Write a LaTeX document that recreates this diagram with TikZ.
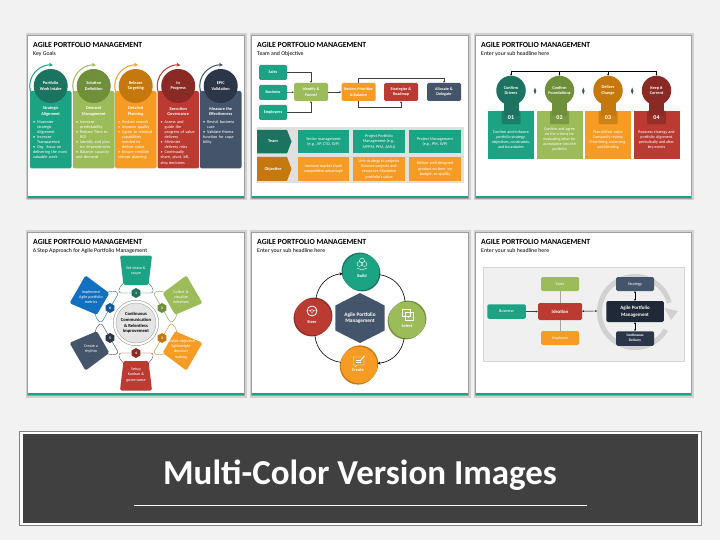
\documentclass[tikz,border=0pt]{standalone}
\usepackage{fontspec}
\setmainfont{Carlito}
\usepackage{tikz, xcolor}
\usetikzlibrary{arrows.meta,shapes.geometric}

\definecolor{pagegrey}{HTML}{F2F2F2}
\definecolor{tealc}{HTML}{1CA384}
\definecolor{tealk}{HTML}{1A7460}
\definecolor{greenc}{HTML}{9CBB59}
\definecolor{greenk}{HTML}{6F8F3B}
\definecolor{orangec}{HTML}{F69C25}
\definecolor{orangek}{HTML}{C4780D}
\definecolor{redc}{HTML}{BB3A32}
\definecolor{redk}{HTML}{8A2A24}
\definecolor{slatec}{HTML}{44546A}
\definecolor{slatek}{HTML}{2B3748}
\definecolor{bluec}{HTML}{1170BF}
\definecolor{bluek}{HTML}{0E5A9A}
\definecolor{inkc}{HTML}{1F2937}

\newcommand{\fsz}[2]{\fontsize{#1}{#2}\selectfont}
\newcommand{\itm}[1]{\par\hyphenpenalty=10000\relax\hangindent=4pt\hangafter=1\noindent\makebox[4pt][l]{\textbullet}#1}

\begin{document}
\begin{tikzpicture}[x=1pt,y=-1pt]
%Formats the slides
\tikzstyle{slidetitle}=[anchor=west,inner sep=0,font=\fsz{7.8}{9}\bfseries,text=black]
\tikzstyle{slidesub}=[anchor=west,inner sep=0,font=\fsz{5.8}{7},text=black]
%Formats text inside shapes
\tikzstyle{wtext}=[inner sep=0,align=center,text=white,font=\fsz{4.2}{5.1}]
\tikzstyle{wbold}=[wtext,font=\fsz{4.3}{5.5}\bfseries]
\tikzstyle{bullets}=[anchor=north west,inner sep=0,text=white,text width=34.5pt,font=\fsz{4.2}{5.1}]
%Formats boxes and connectors
\tikzstyle{flowbox}=[rounded corners=1.5pt,inner sep=0,align=center,text=white,font=\fsz{4.1}{5.3}\bfseries,minimum height=15pt,minimum width=34pt]
\tikzstyle{cellbox}=[inner sep=1pt,align=center,text=white,font=\fsz{4.2}{5.3},minimum width=51.5pt,minimum height=23.5pt]
\tikzstyle{flow}=[draw=black!75,line width=.5pt,-{Stealth[length=2pt,width=2pt]}]
\tikzstyle{twoway}=[draw=black,line width=.4pt,{Stealth[length=1.8pt,width=1.8pt]}-{Stealth[length=1.8pt,width=1.8pt]}]
\tikzstyle{ringline}=[draw=black,line width=.6pt]
\tikzstyle{stepdisc}=[circle,minimum size=36.6pt,inner sep=0]
\tikzstyle{iconline}=[draw=white,line width=.4pt]

\useasboundingbox (0,0) rectangle (720,540);
\fill[pagegrey] (0,0) rectangle (720,540);

%Slide frames
\foreach \sid/\x/\y/\w/\tx/\sub in {
  sa/28/36/216/33/Key Goals,
  sb/252/36/216/257/Team and Objective,
  sc/476/36/215/481/Enter your sub headline here,
  sd/28/233/216/33/6 Step Approach for Agile Portfolio Management,
  se/252/233/216/257/Enter your sub headline here,
  sf/476/233/215/481/Enter your sub headline here}
{
  \fill[black!18] (\x-2.5,\y-2.5) rectangle (\x+\w+2.5,\y+164.5);
  \fill[black!38] (\x-1.2,\y-1.2) rectangle (\x+\w+1.2,\y+163.2);
  \fill[white] (\x,\y) rectangle (\x+\w,\y+162);
  \fill[tealc] (\x,\y+160.4) rectangle (\x+\w,\y+162);
  \node[slidetitle] (\sid title) at (\tx,\y+8.5) {AGILE PORTFOLIO MANAGEMENT};
  \node[slidesub] (\sid sub) at (\tx,\y+18) {\sub};
}

%Slide one, key goals
\foreach \gid/\x/\col/\dark/\disc/\head/\body in {
  ga/30/tealc/tealk/{Portfolio\\Work Intake}/{Strategic\\Alignment}/{\itm{Maximize strategic Alignment}\itm{Increase Transparence}\itm{Org. focus on delivering the most valuable work}},
  gb/73/greenc/greenk/{Solution\\Definition}/{Demand\\Management}/{\itm{Increase predictability}\itm{Reduce Time to ROI}\itm{Identify and plan for dependencies}\itm{Balance capacity and demand}},
  gc/115/orangec/orangek/{Release\\Targeting}/{Detailed\\Planning}/{\itm{Reduce rework}\itm{Improve quality}\itm{Agree to minimal capabilities needed to deliver value}\itm{Ensure credible release planning}},
  gd/157.5/redc/redk/{In\\Progress}/{Execution\\Governance}/{\itm{Assess and\newline guide the progress of value delivery}\itm{Minimize delivery risks}\itm{Continually share, pivot, kill, ship decisions}},
  ge/200/slatec/slatek/{EPIC\\Validation}/{Measure the\\Effectiveness}/{\itm{Revisit business case}\itm{Validate fitness function for capability}}}
{
  \fill[\col,rounded corners=2pt] (\x,91) rectangle (\x+41.5,168.5);
  \draw[\col,line width=1pt,-{Stealth[length=4pt,width=4pt]}] (\x+20.7,86) ++(196:21pt) arc[start angle=196,end angle=84,radius=21pt];
  \node[circle,fill=\dark,minimum size=34pt,inner sep=0] (\gid disc) at (\x+20.7,86) {};
  \node[wbold] (\gid label) at (\gid disc) {\disc};
  \node[wbold] (\gid head) at (\x+20.7,111.5) {\head};
  \node[bullets] (\gid body) at (\x+3,118) {\raggedright\body};
}

%Slide two, flow
\node[flowbox,fill=tealc,minimum width=28pt] (sales) at (273,72.5) {Sales};
\node[flowbox,fill=tealc,minimum width=28pt] (business) at (273,92.5) {Business};
\node[flowbox,fill=tealc,minimum width=28pt] (employees) at (273,112.5) {Employees};
\node[flowbox,fill=greenc,minimum height=18pt] (identify) at (311,92) {Identify \&\\Funnel};
\node[flowbox,fill=orangec,minimum height=18pt] (review) at (358.5,92) {Review Prioritize\\\& Balance};
\node[flowbox,fill=redc,minimum height=18pt] (strategize) at (401,92) {Strategize \&\\Roadmap};
\node[flowbox,fill=slatec,minimum height=18pt] (allocate) at (444,92) {Allocate \&\\Delegate};
\draw[flow] (sales.east) -| (identify.north);
\draw[flow] (business) -- (identify);
\draw[flow] (employees.east) -| (identify.south);
\draw[flow] (identify) -- (review);
\draw[flow] (review.north) -- ++(0,-5) -| (allocate.north);
\draw[flow] (review.south) -- ++(0,6) -| (strategize.south);

%Slide two, table
\fill[black!12] (256.5,127) rectangle (464,183.5);
\fill[tealk] (257,130) -- (287,130) -- (291.5,141.5) -- (287,153.5) -- (257,153.5) -- cycle;
\fill[orangek] (257,157) -- (287,157) -- (291.5,169) -- (287,181) -- (257,181) -- cycle;
\node[wbold] (team) at (273,141.5) {Team};
\node[wbold] (objective) at (273,169) {Objective};
\foreach \cid/\x/\y/\col/\txt in {
  ca/323.5/141.7/tealc/{Senior management\\(e.g., VP, CTO, SVP)},
  cb/379/141.7/tealc/{Project Portfolio\\Management (e.g.,\\MPPM, PfM, AMU)},
  cc/435/141.7/tealc/{Project Management\\(e.g., PM, SVP)},
  cd/323.5/169/orangec/{Increase market share\\competitive advantage},
  ce/379/169/orangec/{Link strategy to projects\\Balance projects and\\resources Maximize\\portfolio's value},
  cf/435/169/orangec/{Deliver well designed\\product on time, on\\budget, or quality}}
{
  \node[cellbox,fill=\col] (\cid) at (\x,\y) {\txt};
}

%Slide three, cards
\draw[line width=.6pt] (511,71) -- (657,71);
\foreach \kid/\x/\col/\dark/\disc/\num/\body in {
  ka/511/tealc/tealk/{Confirm\\Drivers}/01/{Confirm and enhance\\portfolio strategy,\\objectives, constraints,\\and boundaries},
  kb/559.5/greenc/greenk/{Confirm\\Foundations}/02/{Confirm and agree\\on the criteria for\\evaluating ideas for\\acceptance into the\\portfolio},
  kc/608/orangec/orangek/{Deliver\\Change}/03/{Plan deliver value\\Constantly review,\\Prioritizing, balancing,\\and blending},
  kd/656.5/redc/redk/{Keep it\\Current}/04/{Reassess strategy and\\portfolio alignment\\periodically and after\\key events}}
{
  \fill[\col] (\x-23,111) rectangle (\x+23,159);
  \fill[\dark] (\x-7.5,100) rectangle (\x+7.5,116);
  \node[circle,fill=\dark,minimum size=29.5pt,inner sep=0] (\kid disc) at (\x,90.5) {};
  \node[rounded corners=1pt,fill=\dark,fill opacity=.75,text opacity=1,minimum width=19pt,minimum height=13.5pt,inner sep=0,text=white,font=\fsz{6}{7}\bfseries] (\kid num) at (\x,117.5) {\num};
  \node[wbold] (\kid label) at (\kid disc) {\disc};
  \node[wtext,font=\fsz{4.1}{5}] (\kid body) at (\x,139.5) {\body};
  \draw[line width=.6pt,-{Stealth[length=1.5pt,width=1.5pt]}] (\x,71) -- (\kid disc.north);
}
\foreach \mid/\x in {ma/535,mb/583.3,mc/632.2}{
  \node[diamond,fill=slatec,minimum width=2.8pt,minimum height=7pt,inner sep=0,aspect=.4] (\mid) at (\x,91) {};
}

%Slide four, six steps
\node[circle,draw=black!45,line width=.4pt,minimum size=45.5pt,inner sep=0] (core) at (136,323) {};
\node[circle,draw=black!35,fill=black!10,line width=.4pt,minimum size=40pt,inner sep=0,align=center,font=\fsz{4.6}{5.7}\bfseries,text=black] (coretext) at (core) {Continuous\\Communication\\\& Relentless\\Improvement};
\foreach \pid/\ang/\col/\dark/\num/\txt in {
  pa/90/tealc/tealk/1/{Set vision \&\\scope},
  pb/30/greenc/greenk/2/{Collect \&\\visualize\\initiatives},
  pc/-30/orangec/orangek/3/{Realize objective\\lightweight\\decision\\making},
  pd/-90/redc/redk/4/{Setup\\Kanban \&\\governance},
  pe/-150/slatec/slatek/5/{Create a\\rhythm},
  pf/150/bluec/bluek/6/{Implement\\Agile portfolio\\metrics}}
{
  \begin{scope}[shift={(core)},rotate=\ang-90]
    \draw[\dark,line width=.35pt,rounded corners=2pt] (-3,-30) -- (-17,-30) -- (-17,-35) -- (-12.5,-40);
    \draw[\dark,line width=.35pt,rounded corners=2pt] (3,-30) -- (17,-30) -- (17,-35) -- (12.5,-40);
    \fill[\col,rounded corners=1.5pt] (-16,-67.5) -- (16,-67.5) -- (12.5,-38) -- (-12.5,-38) -- cycle;
  \end{scope}
  \node[regular polygon,regular polygon sides=6,shape border rotate=30,fill=\dark,minimum size=10pt,inner sep=0,text=white,font=\fsz{3.8}{4}\bfseries] (\pid num) at ([shift={(\ang:30pt)}]core) {\num};
  \node[wtext,font=\fsz{4.1}{5.3}] (\pid) at ([shift={(\ang:52pt)}]core) {\txt};
}

%Slide five, cycle
\node[regular polygon,regular polygon sides=6,shape border rotate=30,fill=slatec,minimum size=50pt,inner sep=0,xscale=1.14] (hub) at (360,318) {};
\node[wbold,font=\fsz{5.3}{6.6}\bfseries] (hubtext) at (hub) {Agile Portfolio\\Management};
\foreach \did/\x/\y/\dark/\ax/\ay in {
  build/361/272/tealk/1.1/1.1,
  select/407/320/greenk/1.1/-1.1,
  create/359/365/orangek/.9/-1.3,
  steer/313/317/redk/1.1/-1.1}
{
  \fill[\dark] (\x+\ax,\y+\ay) circle (18.3pt);
  \fill[\dark] (\x-\ax,\y-\ay) circle (18.3pt);
}
\node[stepdisc,fill=tealc] (buildnode) at (361,272) {};
\node[stepdisc,fill=greenc] (selectnode) at (407,320) {};
\node[stepdisc,fill=orangec] (createnode) at (359,365) {};
\node[stepdisc,fill=redc] (steernode) at (313,317) {};
\node[wbold] (buildlabel) at (362,276.5) {Build};
\node[wbold] (selectlabel) at (407,326) {Select};
\node[wbold] (createlabel) at (358,370.5) {Create};
\node[wbold] (steerlabel) at (312,322.5) {Steer};
\draw[ringline] (buildnode) to[bend left=38] (selectnode);
\draw[ringline,-{Stealth[length=3pt,width=3pt]}] (selectnode) to[bend left=38] (createnode);
\draw[ringline] (createnode) to[bend left=38] (steernode);
\draw[ringline,-{Stealth[length=3pt,width=3pt]}] (steernode) to[bend left=38] (buildnode);
%Icons
\draw[iconline] (359.5,264) circle (2.4pt) (364.5,264) circle (2.4pt) (362,260.5) circle (2.4pt) (357,268) -- (362,270) -- (367,268);
\draw[iconline] (402.5,309) rectangle (410,316.5) (405,312) rectangle (413,320);
\draw[iconline] (407,316) -- (408.5,317.5) -- (411,314.5);
\draw[iconline] (353.5,357) -- (364,357) -- (364,365) -- (357,365) -- (355,367) -- (355,365) -- (353.5,365) -- cycle;
\draw[iconline] (355.5,360) -- (361,360) (355.5,362.5) -- (361,362.5);
\draw[white,line width=.8pt] (360,361) -- (364.5,356);
\draw[iconline,line width=.8pt] (312,311) circle (5pt);
\draw[iconline] (312,311) circle (1.6pt) (307,310) -- (310.5,310.5) (317,310) -- (313.5,310.5) (312,312.6) -- (312,316);

%Slide six, ideation
\fill[black!6] (483,267) rectangle (684,361);
\draw[black!16,line width=.4pt] (483,267) rectangle (684,361);
\coordinate (ringc) at (635,312);
\draw[black!18,line width=5pt] (ringc) ++(-30:35.5pt) arc[start angle=-30,end angle=-345,radius=35.5pt];
\fill[black!18] (664.5,308) -- (678,311) -- (671,320) -- cycle;
\coordinate (ringedge) at (597,311);
\node[flowbox,fill=greenc,font=\fsz{4.2}{5},minimum width=38pt,minimum height=14pt] (fsales) at (560,284) {Sales};
\node[flowbox,fill=redc,font=\fsz{4.8}{5.5}\bfseries,minimum width=44pt,minimum height=17pt] (ideation) at (560,311.5) {Ideation};
\node[flowbox,fill=orangec,font=\fsz{4}{5},minimum width=38pt,minimum height=14pt] (femployee) at (560,338) {Employee};
\node[flowbox,fill=tealc,font=\fsz{4.2}{5},minimum width=38.5pt,minimum height=14.5pt] (fbusiness) at (506.5,311.5) {Business};
\node[flowbox,fill=slatec,font=\fsz{4.2}{5},minimum width=38pt,minimum height=14pt] (strategy) at (635,284) {Strategy};
\node[flowbox,fill=inkc,font=\fsz{5}{6.4}\bfseries,minimum width=57.5pt,minimum height=21pt] (agile) at (635,311.5) {Agile Portfolio\\Management};
\node[flowbox,fill=slatek,font=\fsz{3.6}{5}\bfseries,minimum width=38pt,minimum height=14.5pt] (delivery) at (635,338.5) {Continuous\\Delivery};
\draw[black!35,line width=.8pt] (fsales) -- (ideation);
\draw[black!35,line width=.8pt] (femployee) -- (ideation);
\draw[flow] (fbusiness) -- (ideation);
\draw[twoway] (ideation) -- (ringedge);
\draw[twoway] (strategy) -- (agile);
\draw[twoway] (delivery) -- (agile);

%Banner
\draw[black!50,line width=.8pt,fill=white] (19.5,431) rectangle (701,525.5);
\fill[black!75] (23,434) rectangle (698,523);
\node[inner sep=0,text=white,font=\fsz{35}{40}\bfseries] (banner) at (360,475) {Multi-Color Version Images};
\coordinate (rulea) at (134,505.5);
\coordinate (ruleb) at (587,505.5);
\draw[white,line width=.6pt] (rulea) -- (ruleb);
\end{tikzpicture}
\end{document}
